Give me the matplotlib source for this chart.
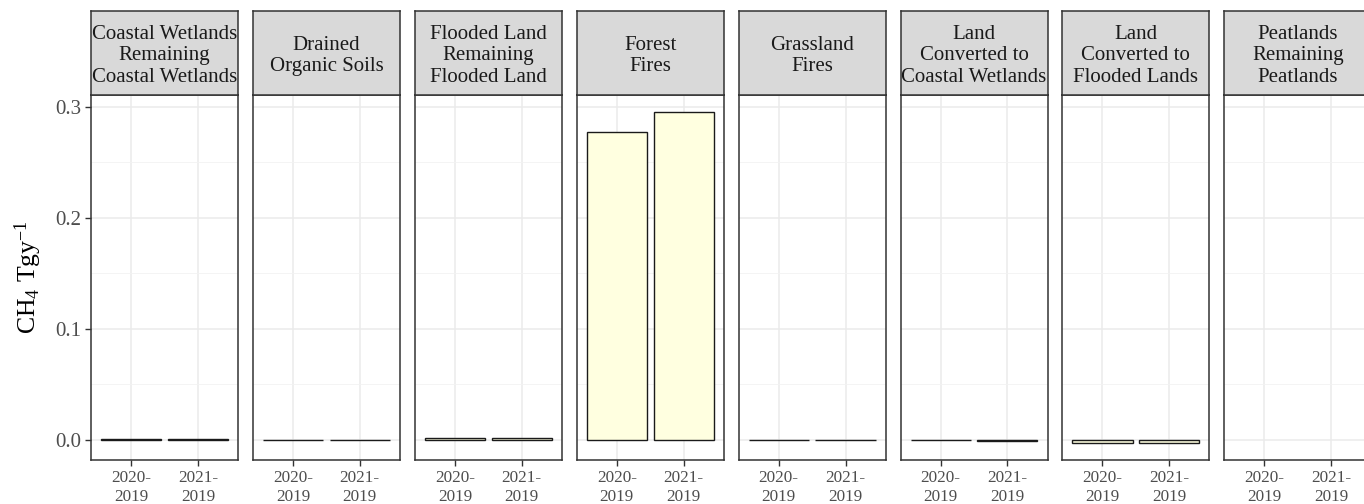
import matplotlib
matplotlib.use("Agg")
import matplotlib.pyplot as plt
import numpy as np

plt.rcParams['font.family'] = ['Liberation Serif', 'DejaVu Serif']
plt.rcParams['mathtext.fontset'] = 'custom'
plt.rcParams['mathtext.rm'] = 'Liberation Serif'
plt.rcParams['mathtext.it'] = 'Liberation Serif:italic'

facets = ["Coastal Wetlands\nRemaining\nCoastal Wetlands", "Drained\nOrganic Soils",
          "Flooded Land\nRemaining\nFlooded Land", "Forest\nFires", "Grassland\nFires",
          "Land\nConverted to\nCoastal Wetlands", "Land\nConverted to\nFlooded Lands",
          "Peatlands\nRemaining\nPeatlands"]
periods = ["2020-\n2019", "2021-\n2019"]
v2020 = [0.0012, 0.0002, 0.0022, 0.2775, 0.0003, 0.0002, -0.0028, np.nan]
v2021 = [0.0012, 0.0002, 0.0022, 0.2955, 0.0003, -0.0006, -0.0028, np.nan]

W, H = 1364, 504
fig = plt.figure(figsize=(W / 100, H / 100), dpi=100)

ymin, ymax = -0.018, 0.3105
left0, step, pw = 91, 161.9, 147
ptop, pbot, stop = 95, 460, 11

for i, name in enumerate(facets):
    x0 = left0 + i * step
    ax = fig.add_axes([x0 / W, (H - pbot) / H, pw / W, (pbot - ptop) / H])
    x = np.arange(1, 3)
    ax.bar(x, [v2020[i], v2021[i]], width=0.9, color='#FFFFE0', edgecolor='#1A1A1A',
           linewidth=1.0, zorder=3)
    ax.set_xlim(0.4, 2.6)
    ax.set_ylim(ymin, ymax)
    ax.set_yticks([0.0, 0.1, 0.2, 0.3])
    ax.set_yticks([0.05, 0.15, 0.25], minor=True)
    ax.set_xticks(x)
    ax.set_xticklabels(periods, fontsize=12.3, color='#4D4D4D', linespacing=1.3)
    ax.grid(True, which='major', color='#EBEBEB', linewidth=1.1, zorder=0)
    ax.grid(True, which='minor', axis='y', color='#F2F2F2', linewidth=0.6, zorder=0)
    ax.tick_params(axis='both', which='major', length=4, width=1, color='#333333', pad=3)
    ax.tick_params(axis='y', which='minor', length=0)
    if i == 0:
        ax.set_yticklabels(["0.0", "0.1", "0.2", "0.3"], fontsize=15, color='#4D4D4D')
        ax.set_ylabel(r"CH$_4$ Tgy$^{-1}$", fontsize=18.5, labelpad=8)
    else:
        ax.set_yticklabels([])
        ax.tick_params(axis='y', which='major', length=0)
    for s in ax.spines.values():
        s.set_color('#333333')
        s.set_linewidth(1.1)

    sax = fig.add_axes([x0 / W, (H - ptop) / H, pw / W, (ptop - stop) / H])
    sax.set_facecolor('#D9D9D9')
    sax.set_xticks([])
    sax.set_yticks([])
    for s in sax.spines.values():
        s.set_color('#333333')
        s.set_linewidth(1.1)
    sax.text(0.5, 0.465, name, ha='center', va='center', fontsize=15, color='#1A1A1A',
             linespacing=1.2, transform=sax.transAxes)

fig.savefig("out.png", dpi=100)
